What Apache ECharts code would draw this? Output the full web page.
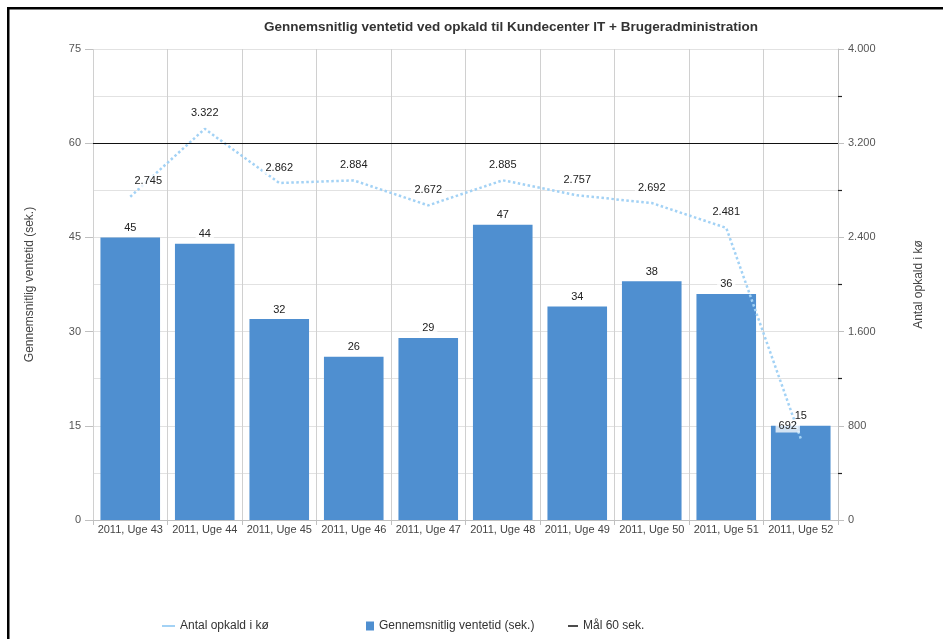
<!DOCTYPE html>
<html>
<head>
<meta charset="utf-8">
<script src="https://cdn.jsdelivr.net/npm/echarts@6/dist/echarts.min.js"></script>
<style>
  html, body { margin: 0; padding: 0; background: #fff; }
  #chart { width: 943px; height: 639px; }
</style>
</head>
<body>
<div id="chart"></div>
<script>
// Weekly figures, Kundecenter IT + Brugeradministration
const weeks = ['2011, Uge 43', '2011, Uge 44', '2011, Uge 45', '2011, Uge 46', '2011, Uge 47',
               '2011, Uge 48', '2011, Uge 49', '2011, Uge 50', '2011, Uge 51', '2011, Uge 52'];
const avgWaitSec = [45, 44, 32, 26, 29, 47, 34, 38, 36, 15];
const callsInQueue = [2745, 3322, 2862, 2884, 2672, 2885, 2757, 2692, 2481, 692];
const targetSec = 60;

const FONT = '"Liberation Sans", Arial, sans-serif';
const fmtDa = v => String(v).replace(/\B(?=(\d{3})+(?!\d))/g, '.');

// first and last queue labels are nudged sideways to stay clear of the edge / bar label
const queueData = callsInQueue.map((v, i) => {
  if (i === 0) return { value: v, label: { offset: [18, 0] } };
  if (i === callsInQueue.length - 1) return { value: v, label: { offset: [-13, 3] } };
  return v;
});

const chart = echarts.init(document.getElementById('chart'), null, { renderer: 'canvas' });

chart.setOption({
  animation: false,
  backgroundColor: '#fff',
  textStyle: { fontFamily: FONT },
  title: {
    text: 'Gennemsnitlig ventetid ved opkald til Kundecenter IT + Brugeradministration',
    left: 259, top: 15,
    textStyle: { fontFamily: FONT, fontSize: 13.5, fontWeight: 'bold', color: '#333' }
  },
  graphic: [
    { type: 'rect', shape: { x: 7, y: 7, width: 936, height: 2.5 }, style: { fill: '#000' } },
    { type: 'rect', shape: { x: 7, y: 7, width: 2.5, height: 632 }, style: { fill: '#000' } }
  ],
  legend: [
    {
      data: [{ name: 'Antal opkald i kø', icon: 'rect' }],
      left: 157, top: 615, itemWidth: 13, itemHeight: 2, itemGap: 0,
      textStyle: { fontSize: 12, color: '#333', fontFamily: FONT }
    },
    {
      data: [{ name: 'Gennemsnitlig ventetid (sek.)', icon: 'rect' }],
      left: 361, top: 615, itemWidth: 8, itemHeight: 9,
      textStyle: { fontSize: 12, color: '#333', fontFamily: FONT }
    },
    {
      data: [{ name: 'Mål 60 sek.', icon: 'rect' }],
      left: 563, top: 615, itemWidth: 10, itemHeight: 1.5,
      textStyle: { fontSize: 12, color: '#333', fontFamily: FONT }
    }
  ],
  grid: { left: 93, right: 105, top: 49, bottom: 119, containLabel: false },
  xAxis: {
    type: 'category',
    data: weeks,
    axisLine: { show: true, lineStyle: { color: '#c0c0c0' } },
    axisTick: { show: true, alignWithLabel: false, length: 5, lineStyle: { color: '#c0c0c0' } },
    splitLine: { show: true, lineStyle: { color: '#d0d0d0' } },
    axisLabel: { fontSize: 11, color: '#444', margin: 4, interval: 0, fontFamily: FONT }
  },
  yAxis: [
    {
      type: 'value', min: 0, max: 75, interval: 15,
      name: 'Gennemsnitlig ventetid (sek.)', nameLocation: 'middle', nameRotate: 90, nameGap: 57,
      nameTextStyle: { fontSize: 12, color: '#444', fontFamily: FONT },
      axisLine: { show: false },
      axisTick: { show: true, length: 8, lineStyle: { color: '#c0c0c0' } },
      axisLabel: { fontSize: 11, color: '#555', margin: 12, fontFamily: FONT },
      splitLine: { show: true, lineStyle: { color: '#e2e2e2' } },
      minorTick: { show: false, splitNumber: 2 },
      minorSplitLine: { show: true, lineStyle: { color: '#e2e2e2' } }
    },
    {
      type: 'value', min: 0, max: 4000, interval: 800,
      name: 'Antal opkald i kø', nameLocation: 'middle', nameRotate: 90, nameGap: 75,
      nameTextStyle: { fontSize: 12, color: '#444', fontFamily: FONT },
      axisLine: { show: true, lineStyle: { color: '#c0c0c0' } },
      axisTick: { show: true, length: 6, lineStyle: { color: '#c0c0c0' } },
      minorTick: { show: true, splitNumber: 2, length: 4, lineStyle: { color: '#222', width: 1.2 } },
      axisLabel: { fontSize: 11, color: '#555', margin: 10, fontFamily: FONT, formatter: fmtDa },
      splitLine: { show: false }
    }
  ],
  series: [
    {
      name: 'Gennemsnitlig ventetid (sek.)',
      type: 'bar',
      yAxisIndex: 0,
      data: avgWaitSec,
      barCategoryGap: '20%',
      itemStyle: { color: '#4f8fd0' },
      label: {
        show: true, position: 'top', distance: 3,
        fontSize: 11, color: '#222', fontFamily: FONT,
        backgroundColor: 'rgba(255,255,255,0.75)', padding: [1, 3]
      },
      z: 2
    },
    {
      name: 'Antal opkald i kø',
      type: 'line',
      yAxisIndex: 1,
      data: queueData,
      symbol: 'circle',
      symbolSize: 0,
      showSymbol: true,
      lineStyle: { color: '#a3d2f5', width: 2.5, type: 'dotted' },
      itemStyle: { color: '#a3d2f5' },
      label: {
        show: true, position: 'top', distance: 9,
        fontSize: 11, color: '#222', fontFamily: FONT, formatter: p => fmtDa(p.value),
        backgroundColor: 'rgba(255,255,255,0.75)', padding: [1, 3]
      },
      z: 4
    },
    {
      name: 'Mål 60 sek.',
      type: 'line',
      yAxisIndex: 0,
      data: [],
      itemStyle: { color: '#111' },
      lineStyle: { color: '#111', width: 1 },
      markLine: {
        silent: true, symbol: 'none', label: { show: false },
        lineStyle: { color: '#111', width: 1.2, type: 'solid' },
        data: [{ yAxis: targetSec }]
      },
      z: 3
    }
  ]
});
</script>
</body>
</html>
